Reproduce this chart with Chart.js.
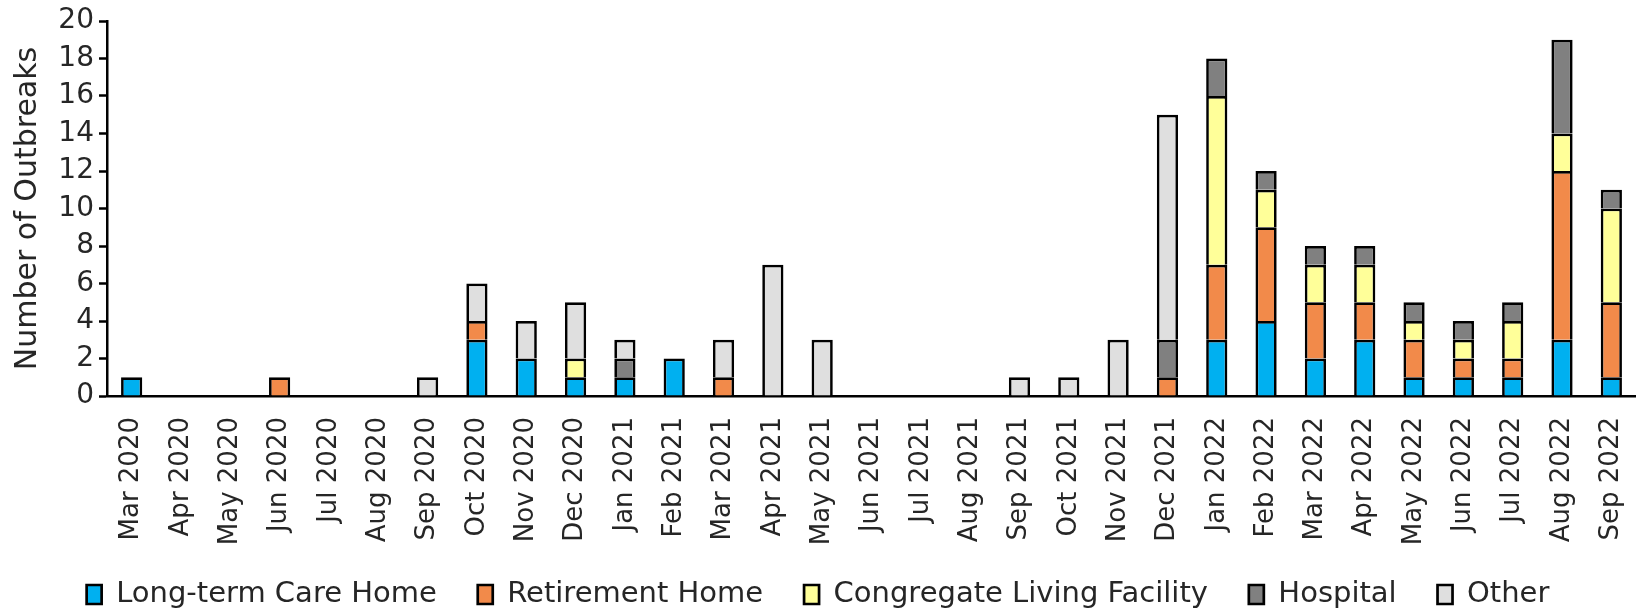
<!DOCTYPE html>
<html>
<head>
<meta charset="utf-8">
<script src="https://cdn.jsdelivr.net/npm/chart.js@4.4.0/dist/chart.umd.min.js"></script>
<style>
  html, body { margin: 0; padding: 0; background: #fff; }
  #wrap { width: 1636px; height: 608px; }
</style>
</head>
<body>
<div id="wrap"><canvas id="outbreakChart"></canvas></div>
<script>
const months = ["Mar 2020", "Apr 2020", "May 2020", "Jun 2020", "Jul 2020", "Aug 2020", "Sep 2020",
  "Oct 2020", "Nov 2020", "Dec 2020", "Jan 2021", "Feb 2021", "Mar 2021", "Apr 2021", "May 2021",
  "Jun 2021", "Jul 2021", "Aug 2021", "Sep 2021", "Oct 2021", "Nov 2021", "Dec 2021", "Jan 2022",
  "Feb 2022", "Mar 2022", "Apr 2022", "May 2022", "Jun 2022", "Jul 2022", "Aug 2022", "Sep 2022"];

const longTermCare = [1, 0, 0, 0, 0, 0, 0, 3, 2, 1, 1, 2, 0, 0, 0, 0, 0, 0, 0, 0, 0, 0, 3, 4, 2, 3, 1, 1, 1, 3, 1];
const retirement   = [0, 0, 0, 1, 0, 0, 0, 1, 0, 0, 0, 0, 1, 0, 0, 0, 0, 0, 0, 0, 0, 1, 4, 5, 3, 2, 2, 1, 1, 9, 4];
const congregate   = [0, 0, 0, 0, 0, 0, 0, 0, 0, 1, 0, 0, 0, 0, 0, 0, 0, 0, 0, 0, 0, 0, 9, 2, 2, 2, 1, 1, 2, 2, 5];
const hospital     = [0, 0, 0, 0, 0, 0, 0, 0, 0, 0, 1, 0, 0, 0, 0, 0, 0, 0, 0, 0, 0, 2, 2, 1, 1, 1, 1, 1, 1, 5, 1];
const other        = [0, 0, 0, 0, 0, 0, 1, 2, 2, 3, 1, 0, 2, 7, 3, 0, 0, 0, 1, 1, 3, 12, 0, 0, 0, 0, 0, 0, 0, 0, 0];

const yTicks = [0, 2, 4, 6, 8, 10, 12, 14, 16, 18, 20];

const fontFamily = "'DejaVu Sans', sans-serif";
const textColor = "#262626";

// zero values stay out of the stack so no empty border is drawn
const clean = (arr) => arr.map(v => v === 0 ? null : v);

function makeSet(label, data, color) {
  return {
    label: label,
    data: clean(data),
    backgroundColor: color,
    borderColor: "#000",
    borderWidth: 2.7,
    barPercentage: 0.86,
    categoryPercentage: 0.5
  };
}

const chart = new Chart(document.getElementById("outbreakChart"), {
  type: "bar",
  data: {
    labels: months,
    datasets: [
      makeSet("Long-term Care Home", longTermCare, "#00B0F0"),
      makeSet("Retirement Home", retirement, "#F28A4A"),
      makeSet("Congregate Living Facility", congregate, "#FFFF99"),
      makeSet("Hospital", hospital, "#808080"),
      makeSet("Other", other, "#DFDFDF")
    ]
  },
  options: {
    animation: false,
    responsive: true,
    maintainAspectRatio: false,
    layout: { padding: { top: 21, right: 0, bottom: -11, left: 0 } },
    plugins: {
      legend: {
        position: "bottom",
        labels: {
          color: textColor,
          font: { family: fontFamily, size: 29 },
          boxWidth: 15,
          boxHeight: 19,
          padding: 4,
          // widen the gap between legend items
          generateLabels: (c) => Chart.defaults.plugins.legend.labels.generateLabels(c).map((item, i, arr) => {
            if (i < arr.length - 1) item.text += "    ";
            return item;
          })
        }
      },
      tooltip: { enabled: false }
    },
    scales: {
      x: {
        stacked: true,
        afterFit: (axis) => { axis.height = 180; axis.paddingLeft = 0; axis.paddingRight = 0; },
        grid: { display: false, drawTicks: false },
        border: { color: "#000", width: 2.5 },
        ticks: {
          color: textColor,
          font: { family: fontFamily, size: 26 },
          minRotation: 90,
          maxRotation: 90,
          autoSkip: false,
          padding: 21
        }
      },
      y: {
        stacked: true,
        min: 0,
        max: 20,
        afterFit: (axis) => { axis.width = 107; axis.paddingTop = 0; axis.paddingBottom = 0; },
        afterBuildTicks: (axis) => { axis.ticks = yTicks.map(v => ({ value: v })); },
        // outward tick marks only, no gridlines
        grid: { display: true, drawOnChartArea: false, drawTicks: true, tickLength: 8, tickColor: "#000", tickWidth: 2.5 },
        border: { color: "#000", width: 2.5 },
        ticks: {
          color: textColor,
          font: { family: fontFamily, size: 28 },
          autoSkip: false,
          padding: 5
        },
        title: {
          display: true,
          text: "Number of Outbreaks",
          color: textColor,
          font: { family: fontFamily, size: 30 },
          padding: { top: 10, bottom: 0 }
        }
      }
    }
  }
});
</script>
</body>
</html>
